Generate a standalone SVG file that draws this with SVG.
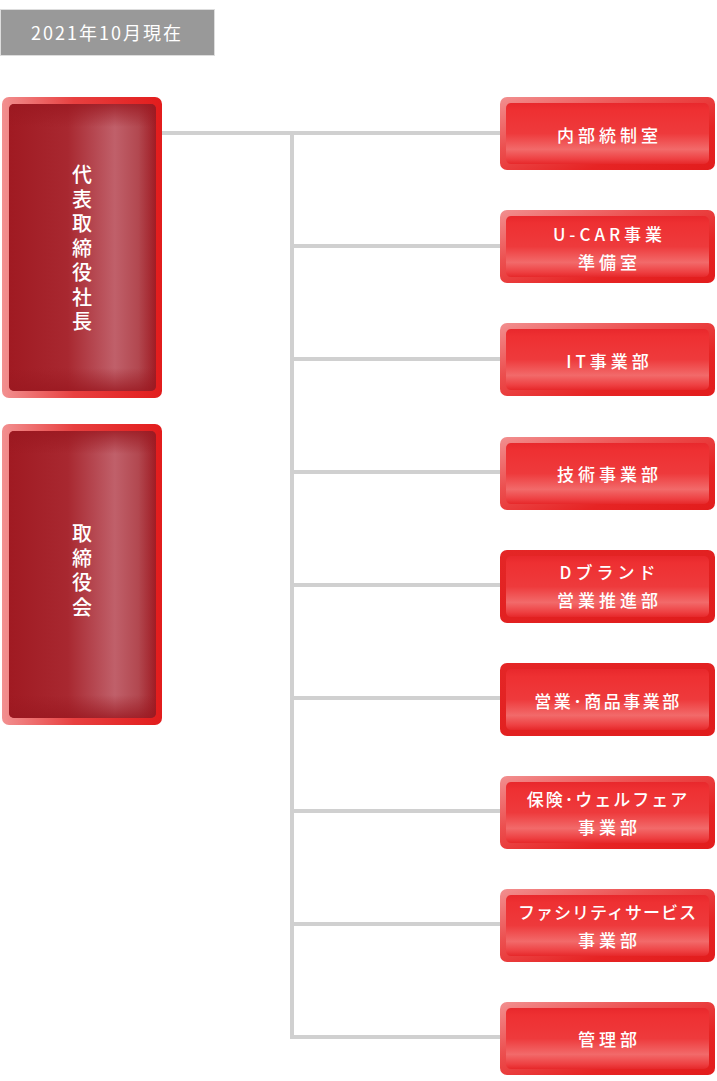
<svg xmlns="http://www.w3.org/2000/svg" width="717" height="1081" viewBox="0 0 717 1081">
<style>
.t{font-family:"Noto Sans CJK JP","Noto Sans",sans-serif;fill:#ffffff;text-anchor:middle;font-weight:500;}
.r{font-size:17px;letter-spacing:4px;}
.v{font-size:20px;letter-spacing:4.5px;writing-mode:vertical-rl;}
.c{stroke:#d0d0d0;stroke-width:4;fill:none;}
</style>
<defs>
<linearGradient id="ro" x1="0" y1="0" x2="1" y2="1">
<stop offset="0" stop-color="#f29090"/>
<stop offset="0.35" stop-color="#ec5050"/>
<stop offset="0.7" stop-color="#e62424"/>
<stop offset="1" stop-color="#e21c1c"/>
</linearGradient>
<linearGradient id="ro2" x1="0" y1="0" x2="1" y2="1">
<stop offset="0" stop-color="#e42626"/>
<stop offset="1" stop-color="#e01c1c"/>
</linearGradient>
<linearGradient id="ri" x1="0" y1="0" x2="0" y2="1">
<stop offset="0" stop-color="#e8282c"/>
<stop offset="0.12" stop-color="#ee3032"/>
<stop offset="0.5" stop-color="#ee3a3c"/>
<stop offset="0.76" stop-color="#f26a6a"/>
<stop offset="0.92" stop-color="#ee4042"/>
<stop offset="1" stop-color="#e6282a"/>
</linearGradient>
<linearGradient id="lo" x1="0" y1="0" x2="1" y2="0">
<stop offset="0" stop-color="#f29090"/>
<stop offset="0.45" stop-color="#e84040"/>
<stop offset="1" stop-color="#e21c1c"/>
</linearGradient>
<linearGradient id="li" x1="0" y1="0" x2="1" y2="0">
<stop offset="0" stop-color="#a01a22"/>
<stop offset="0.4" stop-color="#a82830"/>
<stop offset="0.72" stop-color="#c0606a"/>
<stop offset="0.88" stop-color="#b24850"/>
<stop offset="1" stop-color="#a01c24"/>
</linearGradient>
<linearGradient id="lv" x1="0" y1="0" x2="0" y2="1">
<stop offset="0" stop-color="#9a1820" stop-opacity="0.8"/>
<stop offset="0.08" stop-color="#9a1820" stop-opacity="0"/>
<stop offset="0.92" stop-color="#9a1820" stop-opacity="0"/>
<stop offset="1" stop-color="#9a1820" stop-opacity="0.8"/>
</linearGradient>
</defs>
<rect width="717" height="1081" fill="#ffffff"/>
<g id="date">
<rect x="0.5" y="9.5" width="214" height="46" fill="#999999" stroke="#dddddd" stroke-width="1"/>
<text class="t" x="107" y="39.5" style="font-size:18px;letter-spacing:2px;font-weight:normal">2021年10月現在</text>
</g>
<g id="connectors">
<path class="c" d="M162 133H500M292 133V1037H500M292 246H500M292 359H500M292 472H500M292 585H500M292 698H500M292 811H500M292 924H500"/>
</g>
<g id="president">
<rect x="2" y="97" width="160" height="301" rx="7" fill="url(#lo)"/>
<rect x="9" y="104" width="147" height="287" rx="5" fill="url(#li)"/>
<rect x="9" y="104" width="147" height="287" rx="5" fill="url(#lv)"/>
<text class="t v" x="82" y="250.5">代表取締役社長</text>
</g>
<g id="board">
<rect x="2" y="424" width="160" height="301" rx="7" fill="url(#lo)"/>
<rect x="9" y="431" width="147" height="287" rx="5" fill="url(#li)"/>
<rect x="9" y="431" width="147" height="287" rx="5" fill="url(#lv)"/>
<text class="t v" x="82" y="572.5">取締役会</text>
</g>
<g id="n1">
<rect x="500" y="97" width="215" height="73" rx="7" fill="url(#ro)"/>
<rect x="506" y="103" width="203" height="61" rx="5" fill="url(#ri)"/>
<text class="t r" x="609.5" y="142">内部統制室</text>
</g>
<g id="n2">
<rect x="500" y="210" width="215" height="73" rx="7" fill="url(#ro)"/>
<rect x="506" y="216" width="203" height="61" rx="5" fill="url(#ri)"/>
<text class="t r" x="609.5" y="241">U-CAR事業</text>
<text class="t r" x="609.5" y="269">準備室</text>
</g>
<g id="n3">
<rect x="500" y="323" width="215" height="73" rx="7" fill="url(#ro)"/>
<rect x="506" y="329" width="203" height="61" rx="5" fill="url(#ri)"/>
<text class="t r" x="609.5" y="368">IT事業部</text>
</g>
<g id="n4">
<rect x="500" y="437" width="215" height="73" rx="7" fill="url(#ro)"/>
<rect x="506" y="443" width="203" height="61" rx="5" fill="url(#ri)"/>
<text class="t r" x="609.5" y="481">技術事業部</text>
</g>
<g id="n5">
<rect x="500" y="550" width="215" height="73" rx="7" fill="url(#ro2)"/>
<rect x="506" y="556" width="203" height="61" rx="5" fill="url(#ri)"/>
<text class="t r" x="609.5" y="579">Dブランド</text>
<text class="t r" x="609.5" y="607">営業推進部</text>
</g>
<g id="n6">
<rect x="500" y="663" width="215" height="73" rx="7" fill="url(#ro2)"/>
<rect x="506" y="669" width="203" height="61" rx="5" fill="url(#ri)"/>
<text class="t r" x="608" y="708" style="letter-spacing:2.5px">営業･商品事業部</text>
</g>
<g id="n7">
<rect x="500" y="776" width="215" height="73" rx="7" fill="url(#ro)"/>
<rect x="506" y="782" width="203" height="61" rx="5" fill="url(#ri)"/>
<text class="t r" x="608" y="806" style="letter-spacing:2px">保険･ウェルフェア</text>
<text class="t r" x="609.5" y="834">事業部</text>
</g>
<g id="n8">
<rect x="500" y="889" width="215" height="73" rx="7" fill="url(#ro)"/>
<rect x="506" y="895" width="203" height="61" rx="5" fill="url(#ri)"/>
<text class="t r" x="607.5" y="919" style="letter-spacing:1px">ファシリティサービス</text>
<text class="t r" x="609.5" y="947">事業部</text>
</g>
<g id="n9">
<rect x="500" y="1002" width="215" height="73" rx="7" fill="url(#ro)"/>
<rect x="506" y="1008" width="203" height="61" rx="5" fill="url(#ri)"/>
<text class="t r" x="609.5" y="1046">管理部</text>
</g>
</svg>
